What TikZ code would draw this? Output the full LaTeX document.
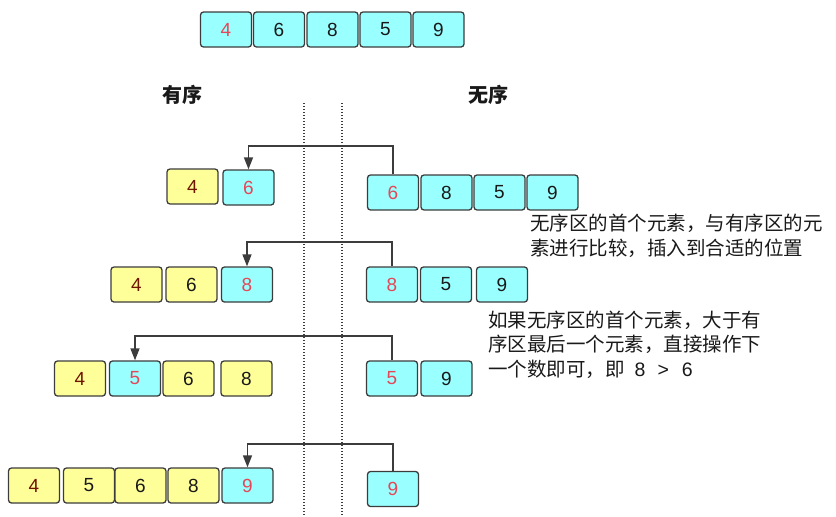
\documentclass[tikz,border=0pt]{standalone}
\usepackage{fontspec}
\setmainfont{Liberation Sans}
\newfontfamily\cjk{Noto Sans CJK SC}
\usetikzlibrary{arrows.meta}
\definecolor{cyanf}{RGB}{153,255,255}
\definecolor{yellf}{RGB}{255,255,153}
\definecolor{redt}{RGB}{228,72,88}
\definecolor{brownt}{RGB}{110,20,0}
\definecolor{numc}{RGB}{25,25,25}
\definecolor{linec}{RGB}{60,60,60}
\begin{document}
\begin{tikzpicture}[x=1pt,y=-1pt,
  cell/.style={draw=linec, rounded corners=3pt, line width=1.3pt, minimum width=51pt, minimum height=35pt, inner sep=0pt, font=\fontsize{19}{19}\selectfont, text=numc},
  cy/.style={cell, fill=cyanf},
  ye/.style={cell, fill=yellf},
  hot/.style={text=redt},
  first/.style={text=brownt},
  conn/.style={draw=linec, line width=1.4pt, -{Triangle[length=12pt,width=9pt]}},
  sep/.style={draw=linec, line width=1.4pt, dash pattern=on 1.4pt off 1.6pt},
  head/.style={font=\cjk\bfseries\fontsize{20}{20}\selectfont, text=numc, inner sep=0pt, anchor=base},
  note/.style={font=\cjk\fontsize{19.5}{19.5}\selectfont, text=numc, inner sep=0pt, anchor=base west}]
\useasboundingbox (0,0) rectangle (836,517);
% top row
\node[cy,hot] (t1) at (226,29.5) {4};
\node[cy] (t2) at (279,29.5) {6};
\node[cy] (t3) at (332.5,29.5) {8};
\node[cy] (t4) at (385.5,29.5) {5};
\node[cy] (t5) at (438.5,29.5) {9};
% headings
\node[head] (hs) at (182,102) {有序};
\node[head] (hu) at (488,102) {无序};
% separators
\coordinate (s1a) at (304,103); \coordinate (s1b) at (304,517);
\coordinate (s2a) at (342,103); \coordinate (s2b) at (342,517);
\draw[sep] (s1a) -- (s1b);
\draw[sep] (s2a) -- (s2b);
% row 1
\node[ye,first] (a1) at (192.5,186.5) {4};
\node[cy,hot] (a2) at (248.5,187.5) {6};
\node[cy,hot] (au1) at (393,192.5) {6};
\node[cy] (au2) at (446.5,192.5) {8};
\node[cy] (au3) at (499.5,192.5) {5};
\node[cy] (au4) at (552.5,192.5) {9};
\coordinate (k1) at (0,146);
\draw[conn] (au1.north) -- (au1.north |- k1) -| (a2.north);
% row 2
\node[ye,first] (b1) at (136.5,284.5) {4};
\node[ye] (b2) at (191.5,284.5) {6};
\node[cy,hot] (b3) at (247,284.5) {8};
\node[cy,hot] (bu1) at (392,284.5) {8};
\node[cy] (bu2) at (446,284.5) {5};
\node[cy] (bu3) at (502,284.5) {9};
\coordinate (k2) at (0,242);
\draw[conn] (bu1.north) -- (bu1.north |- k2) -| (b3.north);
% row 3
\node[ye,first] (c1) at (80,378.5) {4};
\node[cy,hot] (c2) at (135,378.5) {5};
\node[ye] (c3) at (188.5,378.5) {6};
\node[ye] (c4) at (246.5,378.5) {8};
\node[cy,hot] (cu1) at (392,378.5) {5};
\node[cy] (cu2) at (446.5,378.5) {9};
\coordinate (k3) at (0,336);
\draw[conn] (cu1.north) -- (cu1.north |- k3) -| (c2.north);
% row 4
\node[ye,first] (d1) at (34,485.5) {4};
\node[ye] (d2) at (89,485.5) {5};
\node[ye] (d3) at (140.5,485.5) {6};
\node[ye] (d4) at (193.5,485.5) {8};
\node[cy,hot] (d5) at (247.5,485.5) {9};
\node[cy,hot] (du1) at (393,489) {9};
\coordinate (k4) at (0,444);
\draw[conn] (du1.north) -- (du1.north |- k4) -| (d5.north);
% notes
\node[note] (n1a) at (530,230) {无序区的首个元素，与有序区的元};
\node[note] (n1b) at (530,255) {素进行比较，插入到合适的位置};
\node[note] (n2a) at (488,327) {如果无序区的首个元素，大于有};
\node[note] (n2b) at (488,351) {序区最后一个元素，直接操作下};
\node[note] (n2c) at (488,376) {一个数即可，即\hspace{10pt}{\rmfamily 8\hspace{12pt}>\hspace{13pt}6}};
\end{tikzpicture}
\end{document}
